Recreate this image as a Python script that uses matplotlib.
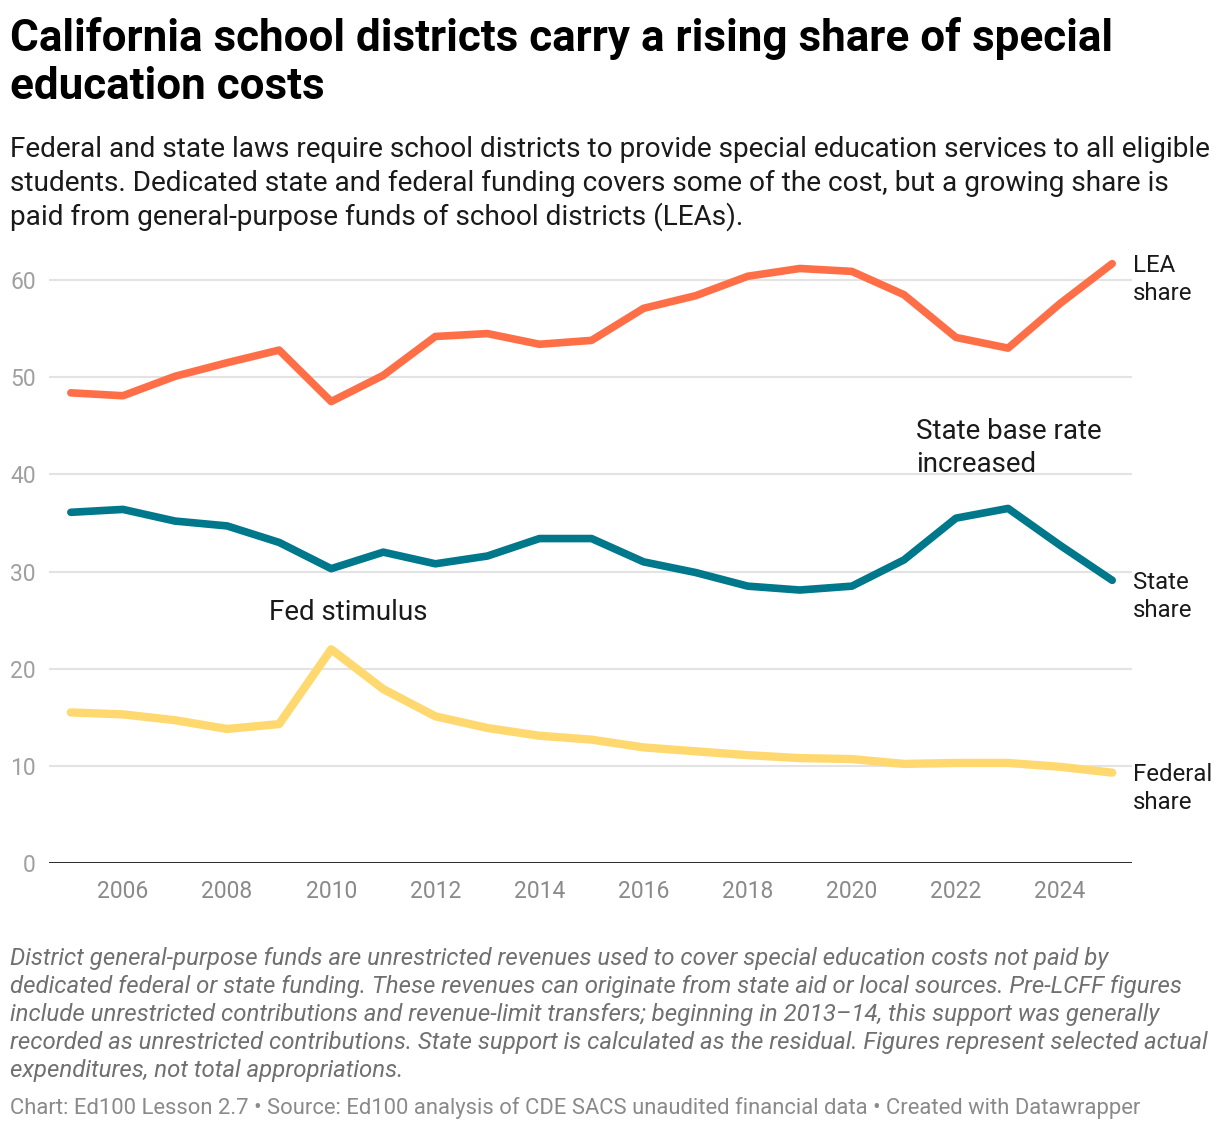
import matplotlib.pyplot as plt

plt.rcParams['font.family'] = ['Roboto', 'DejaVu Sans']

years = list(range(2005, 2026))
lea_share = [48.4, 48.1, 50.1, 51.5, 52.8, 47.5, 50.2, 54.2, 54.5, 53.4, 53.8,
             57.1, 58.4, 60.4, 61.2, 60.9, 58.5, 54.1, 53.0, 57.6, 61.7]
state_share = [36.1, 36.4, 35.2, 34.7, 33.0, 30.3, 32.0, 30.8, 31.6, 33.4, 33.4,
               31.0, 29.9, 28.5, 28.1, 28.5, 31.2, 35.5, 36.5, 32.7, 29.1]
federal_share = [15.5, 15.3, 14.7, 13.8, 14.3, 22.0, 17.9, 15.1, 13.9, 13.1, 12.7,
                 11.9, 11.5, 11.1, 10.8, 10.7, 10.2, 10.3, 10.3, 9.9, 9.3]
yticks = [0, 10, 20, 30, 40, 50, 60]
xticks = list(range(2006, 2026, 2))

title_lines = ['California school districts carry a rising share of special',
               'education costs']
subtitle_lines = ['Federal and state laws require school districts to provide special education services to all eligible',
                  'students. Dedicated state and federal funding covers some of the cost, but a growing share is',
                  'paid from general-purpose funds of school districts (LEAs).']
note_lines = ['District general-purpose funds are unrestricted revenues used to cover special education costs not paid by',
              'dedicated federal or state funding. These revenues can originate from state aid or local sources. Pre-LCFF figures',
              'include unrestricted contributions and revenue-limit transfers; beginning in 2013\u201314, this support was generally',
              'recorded as unrestricted contributions. State support is calculated as the residual. Figures represent selected actual',
              'expenditures, not total appropriations.']
credit = 'Chart: Ed100 Lesson 2.7 \u2022 Source: Ed100 analysis of CDE SACS unaudited financial data \u2022 Created with Datawrapper'

W, H = 1220, 1130


def px(x, y):
    return x / W, 1 - y / H


def lines_at(lines, y0, step, **kw):
    for i, s in enumerate(lines):
        fig.text(*px(10, y0 + i * step), s, va='baseline', ha='left', **kw)


fig = plt.figure(figsize=(12.2, 11.3), dpi=100)
ax = fig.add_axes([49 / W, 1 - 863 / H, (1132 - 49) / W, (863 - 251) / H])

style = dict(solid_capstyle='round', solid_joinstyle='round')
ax.plot(years, lea_share, color='#ff6f47', lw=5.5, **style)
ax.plot(years, state_share, color='#00788b', lw=5.5, **style)
ax.plot(years, federal_share, color='#ffd970', lw=6, **style)

ax.set_xlim(2004.58, 2025.38)
ax.set_ylim(0, 63)
ax.set_yticks(yticks)
ax.set_xticks(xticks)
ax.tick_params(axis='both', length=0, labelsize=16.5, labelcolor='#a0a0a0')
ax.tick_params(axis='x', labelcolor='#8a8a8a')
ax.tick_params(axis='y', pad=9.4)
ax.tick_params(axis='x', pad=12.5)
ax.grid(axis='y', color='#e3e3e3', lw=1.5)
ax.set_axisbelow(True)
for s in ax.spines.values():
    s.set_visible(False)
ax.axhline(0, color='#1a1a1a', lw=2, zorder=3)

# direct line labels
for name, vals in [('LEA', lea_share), ('State', state_share), ('Federal', federal_share)]:
    ax.annotate(name, (years[-1], vals[-1]), xytext=(15, -1.5), textcoords='offset points',
                fontsize=17.3, va='center', ha='left', color='#1a1a1a', annotation_clip=False)
    ax.annotate('share', (years[-1], vals[-1]), xytext=(15, -21.5), textcoords='offset points',
                fontsize=17.3, va='center', ha='left', color='#1a1a1a', annotation_clip=False)

# annotations
ax.text(2010.32, 25.8, 'Fed stimulus', fontsize=20, ha='center', va='center', color='#1a1a1a')
ax.text(2021.24, 44.4, 'State base rate', fontsize=20, ha='left', va='center', color='#1a1a1a')
ax.text(2021.24, 41.0, 'increased', fontsize=20, ha='left', va='center', color='#1a1a1a')

lines_at(title_lines, 51, 48, fontsize=31.7, fontweight='bold', color='black')
lines_at(subtitle_lines, 157, 34, fontsize=20.2, color='#1a1a1a')
lines_at(note_lines, 965, 28, fontsize=17.3, style='italic', color='#707070')
fig.text(*px(10, 1114), credit, va='baseline', ha='left', fontsize=15.85, color='#8a8a8a')

fig.savefig('out.png', dpi=100, facecolor='white')
